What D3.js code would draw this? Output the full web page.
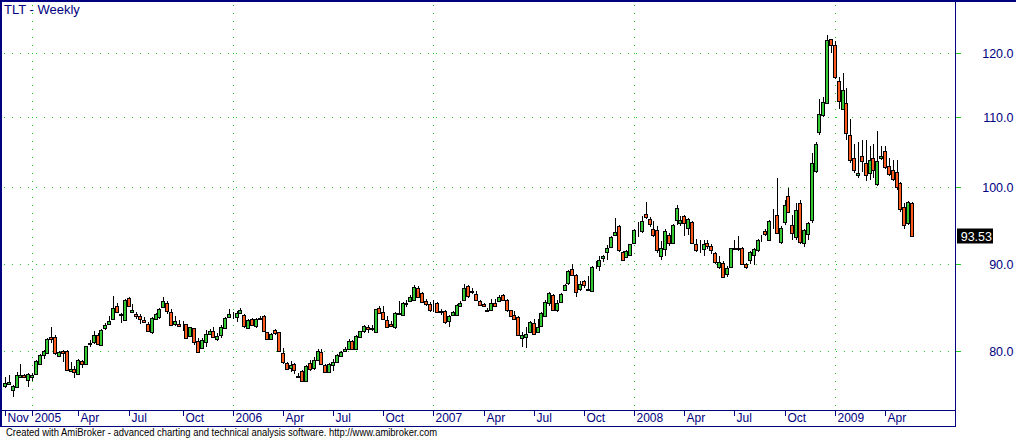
<!DOCTYPE html>
<html>
<head>
<meta charset="utf-8">
<script src="https://cdn.jsdelivr.net/npm/d3@7"></script>
<style>
html, body { margin: 0; padding: 0; background: #fff; overflow: hidden; }
svg { display: block; font-family: "Liberation Sans", Arial, sans-serif; }
</style>
</head>
<body>
<svg id="chart" width="1016" height="439"></svg>
<script>
// TLT weekly bars, first bar Fri 19 Nov 2004, last bar Fri 22 May 2009
var firstWeek = new Date(2004, 10, 19), lastWeek = new Date(2009, 4, 23);

var open = [
  76.3, 76.5, 75.9, 76.2, 77.2, 77.4, 76.9, 77.2, 77.5, 78.6,
  79.6, 79.8, 81.5, 81.5, 79.5, 80.0, 80.0, 77.8, 78.1, 77.5,
  78.9, 78.6, 80.75, 81.0, 81.8, 80.7, 82.5, 83.0, 83.5, 85.05,
  84.1, 83.45, 86.0, 84.3, 84.1, 83.85, 83.45, 83.0, 82.1, 83.6,
  83.8, 84.95, 85.45, 84.35, 82.95, 82.95, 82.9, 82.95, 81.65, 82.5,
  81.05, 80.3, 81.0, 81.9, 82.2, 81.35, 81.75, 82.55, 83.8, 83.95,
  83.8, 84.2, 84.0, 82.55, 83.55, 82.8, 83.7, 83.85, 82.05, 81.3,
  82.3, 82.05, 79.75, 78.7, 78.15, 78.55, 77.25, 77.8, 76.75, 78.7,
  78.15, 79.05, 79.9, 78.5, 77.75, 78.5, 78.8, 79.5, 80.0, 80.2,
  81.1, 80.2, 81.55, 82.15, 82.6, 82.45, 82.05, 84.8, 84.4, 83.4,
  82.95, 82.6, 84.1, 84.0, 85.3, 85.6, 85.8, 87.2, 86.55, 85.6,
  85.3, 85.0, 85.35, 84.5, 84.45, 83.35, 84.0, 84.0, 85.05, 85.75,
  87.35, 86.85, 86.45, 85.6, 85.3, 84.6, 84.6, 85.35, 85.6, 86.35,
  85.8, 84.55, 84.05, 83.75, 81.45, 81.55, 82.1, 83.15, 82.1, 82.8,
  83.95, 85.45, 86.35, 84.55, 85.55, 86.9, 87.7, 89.4, 88.7, 87.0,
  87.95, 87.05, 86.75, 89.75, 89.8, 90.75, 91.6, 92.15, 93.7, 94.85,
  91.6, 90.95, 91.15, 92.7, 94.15, 94.15, 96.4, 95.7, 94.45, 94.3,
  91.05, 91.95, 93.7, 92.7, 95.6, 95.25, 96.1, 94.6, 95.35, 92.5,
  91.6, 91.9, 92.7, 92.35, 91.4, 89.65, 90.15, 88.8, 89.7, 92.05,
  91.95, 92.0, 90.1, 90.6, 91.15, 91.8, 93.0, 94.2, 93.05, 94.8,
  96.3, 92.8, 95.3, 98.85, 95.0, 93.4, 97.85, 92.7, 93.8, 95.6,
  102.2, 107.8, 110.35, 112.2, 122.3, 121.3, 115.5, 111.3, 112.2, 107.4,
  104.0, 101.6, 104.3, 103.3, 101.9, 104.1, 100.4, 104.0, 105.1, 102.9,
  102.4, 102.1, 100.5, 97.3, 95.2, 97.9
];

var high = [
  77.2, 77.4, 76.4, 77.7, 78.6, 77.5, 77.6, 77.6, 79.0, 79.7,
  80.1, 81.4, 82.6, 81.8, 80.0, 80.1, 80.1, 78.8, 78.4, 79.1,
  79.0, 80.5, 81.2, 82.15, 82.0, 82.4, 83.1, 83.85, 86.2, 85.35,
  84.2, 85.9, 86.1, 85.3, 84.35, 84.1, 83.8, 83.2, 83.75, 84.2,
  84.8, 86.15, 85.6, 84.7, 83.85, 83.45, 83.3, 83.0, 82.65, 82.55,
  81.4, 81.4, 82.3, 82.4, 82.6, 82.0, 82.9, 83.8, 84.7, 84.3,
  84.5, 84.8, 84.1, 83.5, 83.7, 83.7, 83.85, 84.0, 82.1, 82.0,
  82.4, 82.1, 80.3, 78.85, 78.9, 78.65, 77.65, 77.9, 78.5, 79.0,
  79.3, 80.2, 80.2, 78.6, 78.7, 79.1, 79.7, 80.0, 80.4, 81.3,
  81.2, 81.8, 82.2, 82.9, 82.9, 82.85, 84.7, 85.1, 85.0, 83.9,
  83.3, 84.3, 85.6, 85.5, 85.7, 86.3, 87.5, 87.4, 86.7, 85.9,
  85.5, 85.7, 85.5, 84.7, 84.6, 84.0, 84.5, 85.3, 85.6, 87.6,
  87.5, 87.2, 86.8, 85.8, 85.4, 84.85, 85.9, 85.9, 86.3, 86.5,
  85.9, 84.6, 84.5, 83.85, 82.1, 82.6, 83.3, 83.6, 83.6, 84.4,
  85.7, 86.7, 86.5, 85.7, 86.6, 87.65, 89.3, 90.05, 88.8, 88.0,
  88.1, 88.65, 89.8, 90.4, 91.05, 91.2, 92.4, 93.5, 95.9, 95.0,
  91.7, 91.8, 92.6, 94.5, 95.4, 96.2, 98.0, 96.0, 95.5, 94.8,
  92.9, 94.4, 94.0, 95.1, 97.6, 96.2, 96.3, 95.9, 95.5, 93.2,
  93.0, 93.05, 93.1, 92.6, 91.5, 91.1, 90.4, 89.8, 92.1, 93.0,
  93.5, 92.2, 90.2, 91.7, 92.1, 93.2, 93.7, 94.5, 95.6, 97.1,
  101.2, 94.9, 98.2, 99.9, 96.3, 97.8, 98.3, 94.5, 95.4, 104.8,
  106.3, 112.7, 113.0, 123.0, 122.4, 122.0, 116.2, 116.9, 114.4, 109.7,
  106.0, 106.3, 106.6, 106.6, 105.8, 106.0, 107.9, 105.8, 105.8, 104.0,
  103.8, 103.8, 100.7, 97.8, 98.1, 98.0
];

var low = [
  76.1, 76.4, 75.1, 76.1, 77.1, 77.1, 76.2, 76.8, 77.4, 78.5,
  79.1, 79.7, 80.9, 79.6, 79.35, 78.8, 77.8, 77.7, 77.1, 77.4,
  78.2, 78.5, 80.4, 80.75, 80.6, 80.6, 82.35, 83.0, 83.4, 84.3,
  83.15, 83.35, 84.9, 84.2, 83.6, 83.0, 83.1, 82.05, 81.9, 83.55,
  83.6, 84.8, 84.1, 82.75, 82.8, 82.7, 82.25, 81.3, 81.5, 80.65,
  79.8, 80.2, 80.45, 81.8, 81.4, 81.1, 81.4, 82.45, 83.7, 83.6,
  83.2, 84.1, 82.5, 82.5, 82.8, 82.5, 83.45, 82.1, 81.25, 81.2,
  81.8, 79.9, 78.6, 77.95, 77.75, 77.55, 77.05, 76.7, 76.7, 77.8,
  77.9, 79.0, 78.5, 77.7, 77.6, 77.8, 78.7, 79.3, 79.9, 80.1,
  80.1, 80.1, 81.4, 82.0, 82.0, 82.2, 82.0, 84.1, 83.5, 82.5,
  82.7, 82.4, 84.0, 83.9, 84.9, 85.5, 85.7, 86.0, 85.4, 85.0,
  84.4, 84.3, 84.2, 84.0, 83.0, 82.7, 83.9, 83.9, 84.9, 85.6,
  86.0, 86.5, 85.6, 85.0, 84.9, 84.4, 84.5, 85.0, 85.5, 85.6,
  84.4, 83.8, 83.4, 81.7, 80.4, 80.35, 82.0, 81.7, 82.0, 82.7,
  83.85, 85.1, 84.5, 84.4, 85.4, 86.8, 87.5, 88.6, 86.1, 86.8,
  87.1, 86.9, 86.7, 89.4, 89.25, 90.3, 90.6, 92.0, 93.5, 91.6,
  90.5, 90.8, 91.0, 92.6, 93.4, 94.0, 95.8, 94.7, 93.4, 91.4,
  90.6, 91.0, 92.25, 92.5, 95.0, 94.8, 93.6, 93.7, 92.5, 91.6,
  91.45, 91.0, 91.9, 91.3, 90.1, 89.4, 88.4, 88.5, 89.6, 91.8,
  91.7, 90.0, 89.5, 90.1, 89.9, 91.5, 92.8, 93.5, 92.9, 94.5,
  93.8, 92.6, 95.0, 96.5, 93.0, 93.1, 92.6, 92.2, 93.0, 95.2,
  102.0, 107.3, 110.0, 112.0, 120.0, 115.8, 111.3, 111.2, 106.6, 103.4,
  102.0, 101.2, 102.1, 100.9, 101.0, 101.2, 100.2, 103.8, 102.5, 101.5,
  100.8, 99.6, 96.7, 94.5, 95.0, 93.5
];

var close = [
  76.6, 76.7, 76.3, 77.4, 77.4, 77.2, 77.5, 77.4, 78.9, 79.6,
  80.0, 81.3, 81.3, 79.8, 79.9, 79.8, 77.9, 78.1, 77.7, 79.0,
  78.6, 80.5, 80.85, 81.75, 80.75, 82.3, 82.9, 83.3, 84.8, 84.4,
  84.0, 85.8, 85.0, 84.6, 83.95, 83.5, 83.2, 82.15, 83.65, 84.1,
  84.7, 85.6, 84.5, 82.85, 83.3, 82.8, 82.85, 81.45, 82.6, 80.95,
  79.9, 81.2, 81.85, 82.15, 81.55, 81.6, 82.6, 83.7, 84.1, 83.85,
  84.25, 84.6, 82.8, 83.4, 82.9, 83.5, 83.5, 82.25, 81.35, 81.9,
  82.0, 80.0, 78.75, 78.1, 78.45, 77.9, 77.3, 76.75, 78.4, 78.1,
  79.05, 80.0, 78.6, 77.75, 78.6, 78.85, 79.6, 79.85, 80.25, 81.1,
  80.2, 81.6, 82.15, 82.8, 82.4, 82.5, 84.65, 84.25, 83.6, 82.6,
  82.8, 84.2, 84.2, 85.45, 85.4, 86.15, 87.3, 86.15, 85.55, 85.3,
  84.6, 85.1, 84.3, 84.3, 83.25, 83.9, 84.35, 85.2, 85.45, 87.2,
  86.2, 86.7, 85.7, 85.2, 85.0, 84.5, 85.35, 85.1, 86.15, 85.75,
  84.55, 83.95, 83.5, 81.8, 81.7, 81.9, 83.2, 81.85, 82.6, 84.25,
  85.5, 86.55, 84.6, 85.4, 86.4, 87.55, 89.15, 88.7, 86.7, 87.6,
  87.55, 86.95, 89.7, 89.85, 90.6, 91.0, 92.05, 93.4, 94.05, 91.75,
  90.6, 91.7, 92.5, 94.35, 94.25, 95.5, 95.95, 95.15, 93.65, 91.85,
  92.05, 94.2, 92.7, 94.95, 97.15, 95.6, 95.2, 95.7, 92.7, 91.8,
  91.55, 92.5, 92.25, 91.75, 90.25, 90.3, 88.5, 89.55, 92.0, 91.95,
  92.05, 90.1, 89.7, 91.5, 91.95, 93.05, 93.1, 93.8, 95.5, 94.9,
  93.9, 94.6, 97.55, 96.7, 93.9, 96.9, 92.85, 94.3, 95.25, 103.4,
  106.1, 110.45, 112.35, 122.2, 121.3, 116.2, 112.5, 114.2, 107.6, 103.7,
  102.4, 102.0, 103.6, 101.6, 103.8, 102.4, 103.6, 104.3, 102.8, 101.8,
  101.1, 100.0, 97.1, 95.0, 98.0, 93.53
];

var priceTicks = [80, 90, 100, 110, 120];
var lastPrice = 93.53;

var navy = "#000080", gridGreen = "#1ec81e";
var upColor = "#33c933", downColor = "#ff5a1e";

var weeks = d3.timeFriday.range(firstWeek, lastWeek);
var bars = weeks.map(function (d, i) {
  return { date: d, i: i, o: open[i], h: high[i], l: low[i], c: close[i] };
});

// first bar of every quarter gets an axis label
var tickIdx = bars.filter(function (b, i) {
  if (i == 0) return true;
  var m = b.date.getMonth();
  return m != weeks[i - 1].getMonth() && m % 3 == 0;
}).map(function (b) { return b.i; });
var yearIdx = tickIdx.filter(function (i) { return i > 0 && weeks[i].getMonth() == 0; });

var svg = d3.select("#chart");
var plotRight = 955, axisY = 410;

var x = d3.scaleLinear().domain([0, bars.length - 1]).range([5, 912]);
var y = d3.scaleLog().domain([80, 120]).range([350.9, 53.3]);

svg.append("rect").attr("width", 1016).attr("height", 439).attr("fill", "#fff");

// grid
var grid = svg.append("g").attr("shape-rendering", "crispEdges");
grid.selectAll("line.h")
  .data(priceTicks)
  .join("line")
  .attr("x1", 4).attr("x2", plotRight)
  .attr("y1", function (d) { return Math.round(y(d)) + 0.5; })
  .attr("y2", function (d) { return Math.round(y(d)) + 0.5; })
  .attr("stroke", gridGreen)
  .attr("stroke-dasharray", "1,7");
grid.selectAll("line.v")
  .data(yearIdx)
  .join("line")
  .attr("x1", function (i) { return Math.round(x(i)) + 0.5; })
  .attr("x2", function (i) { return Math.round(x(i)) + 0.5; })
  .attr("y1", 5).attr("y2", axisY)
  .attr("stroke", gridGreen)
  .attr("stroke-dasharray", "1,7");

// candles
var candle = svg.append("g").attr("shape-rendering", "crispEdges")
  .selectAll("g")
  .data(bars)
  .join("g")
  .attr("transform", function (d) { return "translate(" + (Math.round(x(d.i)) + 0.5) + ",0)"; });

candle.append("line")
  .attr("y1", function (d) { return Math.round(y(d.h)); })
  .attr("y2", function (d) { return Math.round(y(d.l)); })
  .attr("stroke", "#000");

candle.append("rect")
  .attr("x", -2)
  .attr("width", 3)
  .attr("y", function (d) { return Math.round(y(Math.max(d.o, d.c))) + 0.5; })
  .attr("height", function (d) {
    return Math.max(0, Math.round(y(Math.min(d.o, d.c))) - Math.round(y(Math.max(d.o, d.c))));
  })
  .attr("fill", function (d) { return d.c >= d.o ? upColor : downColor; })
  .attr("stroke", "#000");

// frame
var frame = svg.append("g").attr("stroke", navy).attr("shape-rendering", "crispEdges");
frame.append("line").attr("x1", 0).attr("x2", 1016).attr("y1", 1).attr("y2", 1).attr("stroke-width", 2);
frame.append("line").attr("x1", 1).attr("x2", 1).attr("y1", 0).attr("y2", 427).attr("stroke-width", 2);
frame.append("line").attr("x1", plotRight + 0.5).attr("x2", plotRight + 0.5).attr("y1", 0).attr("y2", 427);
frame.append("line").attr("x1", 0).attr("x2", plotRight).attr("y1", axisY + 0.5).attr("y2", axisY + 0.5);
frame.append("line").attr("x1", 0).attr("x2", plotRight).attr("y1", 426.5).attr("y2", 426.5);

// price axis
var yAxis = svg.append("g")
  .attr("transform", "translate(" + (plotRight + 0.5) + ",0)")
  .call(d3.axisRight(y).tickValues(priceTicks).tickSize(5).tickFormat(d3.format(".1f")));
yAxis.select(".domain").remove();
yAxis.selectAll(".tick line").attr("stroke", gridGreen).attr("shape-rendering", "crispEdges");
yAxis.selectAll(".tick text")
  .attr("x", 58).attr("dy", "0.36em")
  .attr("text-anchor", "end")
  .attr("fill", navy)
  .style("font-size", "12.5px")
  .style("font-family", "'Liberation Sans', Arial, sans-serif");

// last price marker
var lastY = y(lastPrice);
svg.append("rect")
  .attr("x", 957).attr("y", Math.round(lastY) - 7.5)
  .attr("width", 36).attr("height", 15)
  .attr("fill", "#000");
svg.append("text")
  .attr("x", 992).attr("y", lastY).attr("dy", "0.36em")
  .attr("text-anchor", "end")
  .attr("fill", "#fff")
  .style("font-size", "12.5px")
  .text(d3.format(".2f")(lastPrice));

// date axis
var monthFmt = d3.timeFormat("%b"), yearFmt = d3.timeFormat("%Y");
var xAxis = svg.append("g")
  .attr("transform", "translate(0," + (axisY + 1) + ")")
  .call(d3.axisBottom(x).tickValues(tickIdx).tickSize(5).tickFormat(function (i) {
    var d = weeks[i];
    return (d.getMonth() == 0 && i > 0) ? yearFmt(d) : monthFmt(d);
  }));
xAxis.select(".domain").remove();
xAxis.selectAll(".tick").attr("transform", function (i) { return "translate(" + (Math.round(x(i)) + 0.5) + ",0)"; });
xAxis.selectAll(".tick line").attr("stroke", navy).attr("shape-rendering", "crispEdges");
xAxis.selectAll(".tick text")
  .attr("x", 2).attr("y", 11).attr("dy", null)
  .attr("text-anchor", "start")
  .attr("fill", navy)
  .style("font-size", "12px")
  .style("font-family", "'Liberation Sans', Arial, sans-serif");

// title and footer
svg.append("text")
  .attr("x", 4).attr("y", 14)
  .attr("fill", navy)
  .style("font-size", "13px")
  .text("TLT - Weekly");

svg.append("text")
  .attr("x", 6).attr("y", 436)
  .attr("fill", "#000")
  .attr("textLength", 431)
  .attr("lengthAdjust", "spacingAndGlyphs")
  .style("font-size", "10px")
  .text("Created with AmiBroker - advanced charting and technical analysis software. http://www.amibroker.com");
</script>
</body>
</html>
